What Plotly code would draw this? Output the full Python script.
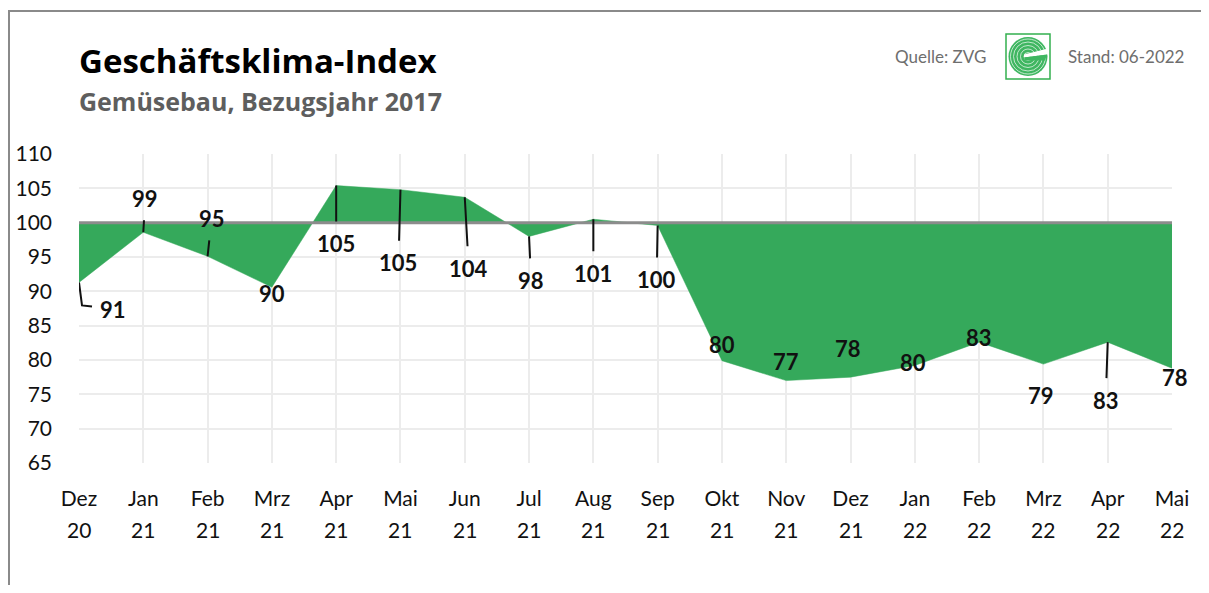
import plotly.graph_objects as go

# ---------------- data ----------------
months = ["Dez", "Jan", "Feb", "Mrz", "Apr", "Mai", "Jun", "Jul", "Aug",
          "Sep", "Okt", "Nov", "Dez", "Jan", "Feb", "Mrz", "Apr", "Mai"]
years = ["20", "21", "21", "21", "21", "21", "21", "21", "21",
         "21", "21", "21", "21", "22", "22", "22", "22", "22"]
values = [91.3, 98.6, 95.1, 90.6, 105.4, 104.8, 103.7, 98.0, 100.5,
          99.6, 79.9, 77.0, 77.5, 79.2, 82.6, 79.4, 82.6, 78.8]
labels = ["91", "99", "95", "90", "105", "105", "104", "98", "101",
          "100", "80", "77", "78", "80", "83", "79", "83", "78"]
BASELINE = 100
y_ticks = [65, 70, 75, 80, 85, 90, 95, 100, 105, 110]

# label placement (pixel offsets of label centre from the point, + leader line flag)
lab_dx = [34, 2, 4, 0, 0, -2, 4, 2, 0, -1, 0, 0, -3, -2, 0, -2, -2, 3]
lab_dy = [27, -34, -38, 6, 58, 73, 71, 44, 54, 54, -16, -19, -29, -3, -5, 31, 58, 9]
lab_line = [False, True, True, False, True, True, True, True, True,
            True, False, False, False, False, False, False, True, False]

# ---------------- layout geometry (window pixel coords) ----------------
OFF = 8                      # page body margin
W, H = 1209 - 2 * OFF, 593 - 2 * OFF
L, R, T, B = 79, 1172, 154, 463


def pxx(px):
    return (px - L) / (R - L)


def pxy(py):
    return (B - py) / (B - T)


GREEN = "#35a95b"
FONT = "Lato"
TFONT = "Open Sans"
x = list(range(len(values)))

fig = go.Figure()
fig.add_trace(go.Scatter(x=x, y=[BASELINE] * len(x), mode="lines",
                         line=dict(width=0, color=GREEN), hoverinfo="skip",
                         showlegend=False))
fig.add_trace(go.Scatter(x=x, y=values, mode="lines", fill="tonexty",
                         fillcolor=GREEN, line=dict(width=0.5, color=GREEN),
                         showlegend=False))
fig.add_trace(go.Scatter(x=[x[0], x[-1]], y=[BASELINE, BASELINE], mode="lines",
                         line=dict(width=3, color="#8c8c8c"), hoverinfo="skip",
                         showlegend=False))

annotations = []
for i, (v, t) in enumerate(zip(values, labels)):
    if lab_line[i]:
        annotations.append(dict(
            x=i, y=v, xref="x", yref="y", text="<b>%s</b>" % t,
            showarrow=True, arrowhead=0, arrowwidth=2, arrowcolor="#111",
            ax=lab_dx[i], ay=lab_dy[i], standoff=0, startstandoff=7,
            font=dict(family=FONT, size=22, color="#111")))
    else:
        annotations.append(dict(
            x=i, y=v, xref="x", yref="y", text="<b>%s</b>" % t,
            showarrow=False, xshift=lab_dx[i], yshift=-lab_dy[i],
            font=dict(family=FONT, size=22, color="#111")))

# year row under the month tick labels
for i, yr in enumerate(years):
    annotations.append(dict(x=i, y=0, xref="x", yref="paper", text=yr,
                            showarrow=False, yanchor="middle",
                            yshift=-(529 - B),
                            font=dict(family=FONT, size=21, color="#111")))

# titles and header texts
annotations += [
    dict(xref="paper", yref="paper", x=pxx(77), y=pxy(60), xanchor="left",
         yanchor="middle", showarrow=False, text="<b>Geschäftsklima-Index</b>",
         font=dict(family=TFONT, size=33, color="#000")),
    dict(xref="paper", yref="paper", x=pxx(77), y=pxy(101), xanchor="left",
         yanchor="middle", showarrow=False, text="<b>Gemüsebau, Bezugsjahr 2017</b>",
         font=dict(family=TFONT, size=25, color="#5e5e5e")),
    dict(xref="paper", yref="paper", x=pxx(988), y=pxy(56), xanchor="right",
         yanchor="middle", showarrow=False, text="Quelle: ZVG",
         font=dict(family=FONT, size=17, color="#6e6e6e")),
    dict(xref="paper", yref="paper", x=pxx(1066), y=pxy(56), xanchor="left",
         yanchor="middle", showarrow=False, text="Stand: 06-2022",
         font=dict(family=FONT, size=17, color="#6e6e6e")),
]

shapes = [
    # outer frame (left and top edges)
    dict(type="line", xref="paper", yref="paper", x0=pxx(9), x1=pxx(9),
         y0=pxy(11), y1=pxy(600), line=dict(color="#8a8a8a", width=2)),
    dict(type="line", xref="paper", yref="paper", x0=pxx(8), x1=pxx(1215),
         y0=pxy(11), y1=pxy(11), line=dict(color="#8a8a8a", width=2)),
    # leader with elbow for first label
    dict(type="path", xref="x", yref="y", xsizemode="pixel", ysizemode="pixel",
         xanchor=0, yanchor=values[0], path="M0,0 L3,-23 L13,-24",
         line=dict(color="#111", width=2)),
]

# logo (green square with stylised G)
lx0, lx1, ly0, ly1 = 1006, 1050, 34, 79
cx, cy, r = 1028, 56.5, 19.5
shapes.append(dict(type="rect", xref="paper", yref="paper",
                   x0=pxx(lx0), x1=pxx(lx1), y0=pxy(ly1), y1=pxy(ly0),
                   line=dict(color="#33b04f", width=1.5), fillcolor="white"))
shapes.append(dict(type="circle", xref="paper", yref="paper",
                   x0=pxx(cx - r), x1=pxx(cx + r), y0=pxy(cy + r), y1=pxy(cy - r),
                   line=dict(width=0), fillcolor="#3fb661"))
for rr in [4, 7.5, 11, 14.5, 17.5]:
    shapes.append(dict(type="circle", xref="paper", yref="paper",
                       x0=pxx(cx - rr), x1=pxx(cx + rr), y0=pxy(cy + rr), y1=pxy(cy - rr),
                       line=dict(width=0.8, color="rgba(255,255,255,0.85)")))
shapes.append(dict(type="path", xref="paper", yref="paper",
                   path="M%f,%f L%f,%f L%f,%f L%f,%f Z" % (
                       pxx(cx - 4), pxy(cy - 2), pxx(cx + 20), pxy(cy - 8),
                       pxx(cx + 20), pxy(cy - 2), pxx(cx - 4), pxy(cy + 1)),
                   line=dict(width=0), fillcolor="white"))
shapes.append(dict(type="path", xref="paper", yref="paper",
                   path="M%f,%f L%f,%f L%f,%f L%f,%f Z" % (
                       pxx(cx - 4), pxy(cy + 1), pxx(cx + 19), pxy(cy - 2),
                       pxx(cx + 17), pxy(cy + 4), pxx(cx - 3), pxy(cy + 4)),
                   line=dict(width=0), fillcolor="#3fb661"))

fig.update_layout(
    width=W, height=H,
    margin=dict(l=L - OFF, r=W - (R - OFF), t=T - OFF, b=H - (B - OFF)),
    paper_bgcolor="white", plot_bgcolor="white",
    showlegend=False,
    annotations=annotations, shapes=shapes,
    xaxis=dict(range=[0, len(x) - 1], tickmode="array", tickvals=x,
               ticktext=months, showgrid=True, gridcolor="#ececec", gridwidth=2,
               zeroline=False, showline=False, ticks="", automargin=False,
               ticklabelstandoff=21,
               tickfont=dict(family=FONT, size=21, color="#111")),
    yaxis=dict(range=[65, 110], tickmode="array", tickvals=y_ticks,
               showgrid=True, gridcolor="#ececec", gridwidth=2,
               zeroline=False, showline=False, ticks="", automargin=False,
               ticklabelstandoff=26,
               tickfont=dict(family=FONT, size=21, color="#111")),
    font=dict(family=FONT),
)

fig.write_html("out.html")
